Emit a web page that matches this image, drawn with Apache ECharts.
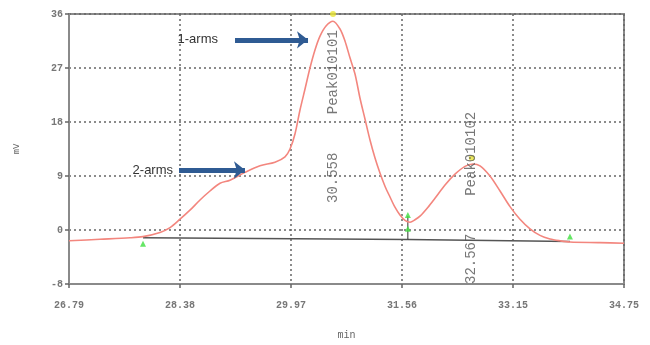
<!DOCTYPE html>
<html>
<head>
<meta charset="utf-8">
<script src="https://cdn.jsdelivr.net/npm/echarts@6/dist/echarts.min.js"></script>
<style>
html,body{margin:0;padding:0;background:#fff;}
#chart{width:650px;height:345px;}
</style>
</head>
<body>
<div id="chart"></div>
<script>
// ---- data ----
var xTickLabels = ['26.79','28.38','29.97','31.56','33.15','34.75'];
var yTickLabels = ['-8','0','9','18','27','36'];

var chromTime = [26.79,27.235,27.665,27.851,28.095,28.239,28.382,28.525,28.669,28.812,28.956,29.099,29.314,29.529,29.744,29.888,29.960,30.031,30.103,30.175,30.246,30.318,30.390,30.476,30.576,30.677,30.748,30.820,30.892,30.963,31.035,31.107,31.179,31.250,31.322,31.394,31.465,31.537,31.609,31.681,31.752,31.824,31.939,32.039,32.183,32.326,32.469,32.584,32.685,32.828,32.972,33.115,33.258,33.402,33.545,33.689,33.832,33.975,34.406,34.75];
var chromSignal = [-1.8,-1.55,-1.3,-1.1,-0.4,0.4,1.8,3.3,5.0,6.5,7.8,8.3,9.6,10.7,11.3,12.2,13.5,16,20,23.5,27,30,32.3,34,34.8,33.5,31.5,28.7,26,22,18.5,15,12,9.5,7.3,5.5,3.8,2.5,1.6,1.3,1.7,2.3,3.8,5.3,7.5,9.3,10.6,11.0,10.7,9.0,6.5,3.9,1.8,0.2,-0.9,-1.5,-1.8,-2.0,-2.1,-2.2];

var base1Time = [27.851, 31.65];
var base1Signal = [-1.3, -1.6];
var base2Time = [31.65, 33.975];
var base2Signal = [-1.6, -1.9];
var dropTime = [31.65, 31.65];
var dropSignal = [-1.6, 2.3];

var greenTime = [27.851, 31.65, 31.65, 33.975];
var greenSignal = [-2.3, 2.5, 0.2, -1.1];
var yellowTime = [30.576, 32.567];
var yellowSignal = [36, 12];

var peakLabelText = ['Peak010101','30.558','Peak010102','32.567'];
var peakLabelX = [30.576, 30.576, 32.567, 32.567];
var peakLabelY = [26.3, 8.7, 12.7, -4.8];

var arrowNames = ['1-arms','2-arms'];
var arrowStartX = [29.171, 28.368];
var arrowEndX = [30.218, 29.314];
var arrowY = [31.7, 10];

function zip(a, b){ return a.map(function(v,i){ return [v, b[i]]; }); }

var chart = echarts.init(document.getElementById('chart'), null, {renderer:'canvas'});
var monoFont = 'Liberation Mono';
var labelGaps = [17, 6];

var arrowData = arrowNames.map(function(n, i){
  return [
    {coord:[arrowStartX[i], arrowY[i]], symbol:'none', name:n, label:{distance:labelGaps[i]}},
    {coord:[arrowEndX[i], arrowY[i]], symbol:'arrow'}
  ];
});

var option = {
  animation: false,
  backgroundColor: '#fff',
  grid: {left:69, right:26, top:14, bottom:59, show:true, borderColor:'#8a8a8a', borderWidth:2},
  xAxis: {
    type:'value', min:26.79, max:34.75, interval:1.592,
    name:'min', nameLocation:'middle', nameGap:46,
    nameTextStyle:{fontFamily:monoFont, fontSize:10, color:'#666'},
    axisLine:{show:true, onZero:false, lineStyle:{color:'#8a8a8a', width:2}},
    axisTick:{show:true, length:4, lineStyle:{color:'#666', width:1.5}},
    axisLabel:{margin:16, fontFamily:monoFont, fontSize:10, fontWeight:'bold', color:'#777',
      formatter:function(v){ var i=Math.round((v-26.79)/1.592); return xTickLabels[i]; }},
    splitLine:{show:true, lineStyle:{color:'#666', type:[2,3], width:1.5}}
  },
  yAxis: {
    type:'value', min:-9, max:36, interval:9,
    name:'mV', nameLocation:'middle', nameGap:48,
    nameTextStyle:{fontFamily:monoFont, fontSize:9, color:'#666'},
    axisLine:{show:true, onZero:false, lineStyle:{color:'#8a8a8a', width:2}},
    axisTick:{show:true, length:4, lineStyle:{color:'#666', width:1.5}},
    axisLabel:{margin:6, fontFamily:monoFont, fontSize:10, fontWeight:'bold', color:'#777',
      formatter:function(v){ var i=Math.round((v+9)/9); return yTickLabels[i]; }},
    splitLine:{show:true, lineStyle:{color:'#666', type:[2,3], width:1.5}}
  },
  series: [
    {
      type:'line', name:'base1', data:zip(base1Time, base1Signal), symbol:'none',
      lineStyle:{color:'#555', width:1.5}, z:2
    },
    {
      type:'line', name:'base2', data:zip(base2Time, base2Signal), symbol:'none',
      lineStyle:{color:'#555', width:1.5}, z:2
    },
    {
      type:'line', name:'drop', data:zip(dropTime, dropSignal), symbol:'none',
      lineStyle:{color:'#333', width:1}, z:2
    },
    {
      type:'line', name:'signal', data:zip(chromTime, chromSignal), symbol:'none', smooth:0.3,
      lineStyle:{color:'#f3867e', width:1.6}, z:3,
      markLine:{
        silent:true, symbolSize:[13,11],
        lineStyle:{color:'#2f5b93', width:5, type:'solid'},
        label:{show:true, position:'start', distance:6, formatter:'{b}', color:'#333', fontSize:13, fontFamily:'Liberation Sans'},
        data: arrowData
      }
    },
    {
      type:'scatter', name:'green', data:zip(greenTime, greenSignal), symbol:'triangle', symbolSize:6,
      itemStyle:{color:'#3ee03e'}, z:4
    },
    {
      type:'scatter', name:'yellow', data:zip(yellowTime, yellowSignal), symbol:'circle', symbolSize:6,
      itemStyle:{color:'#e9e535'}, z:4
    },
    {
      type:'scatter', name:'peaklabels', symbolSize:1, itemStyle:{color:'rgba(0,0,0,0)'},
      data: peakLabelText.map(function(t,i){ return {value:[peakLabelX[i], peakLabelY[i]], name:t}; }),
      label:{show:true, position:'inside', rotate:90, formatter:'{b}', fontFamily:monoFont, fontSize:14, color:'#555', align:'center', verticalAlign:'middle'},
      z:5
    }
  ]
};
chart.setOption(option);
</script>
</body>
</html>
